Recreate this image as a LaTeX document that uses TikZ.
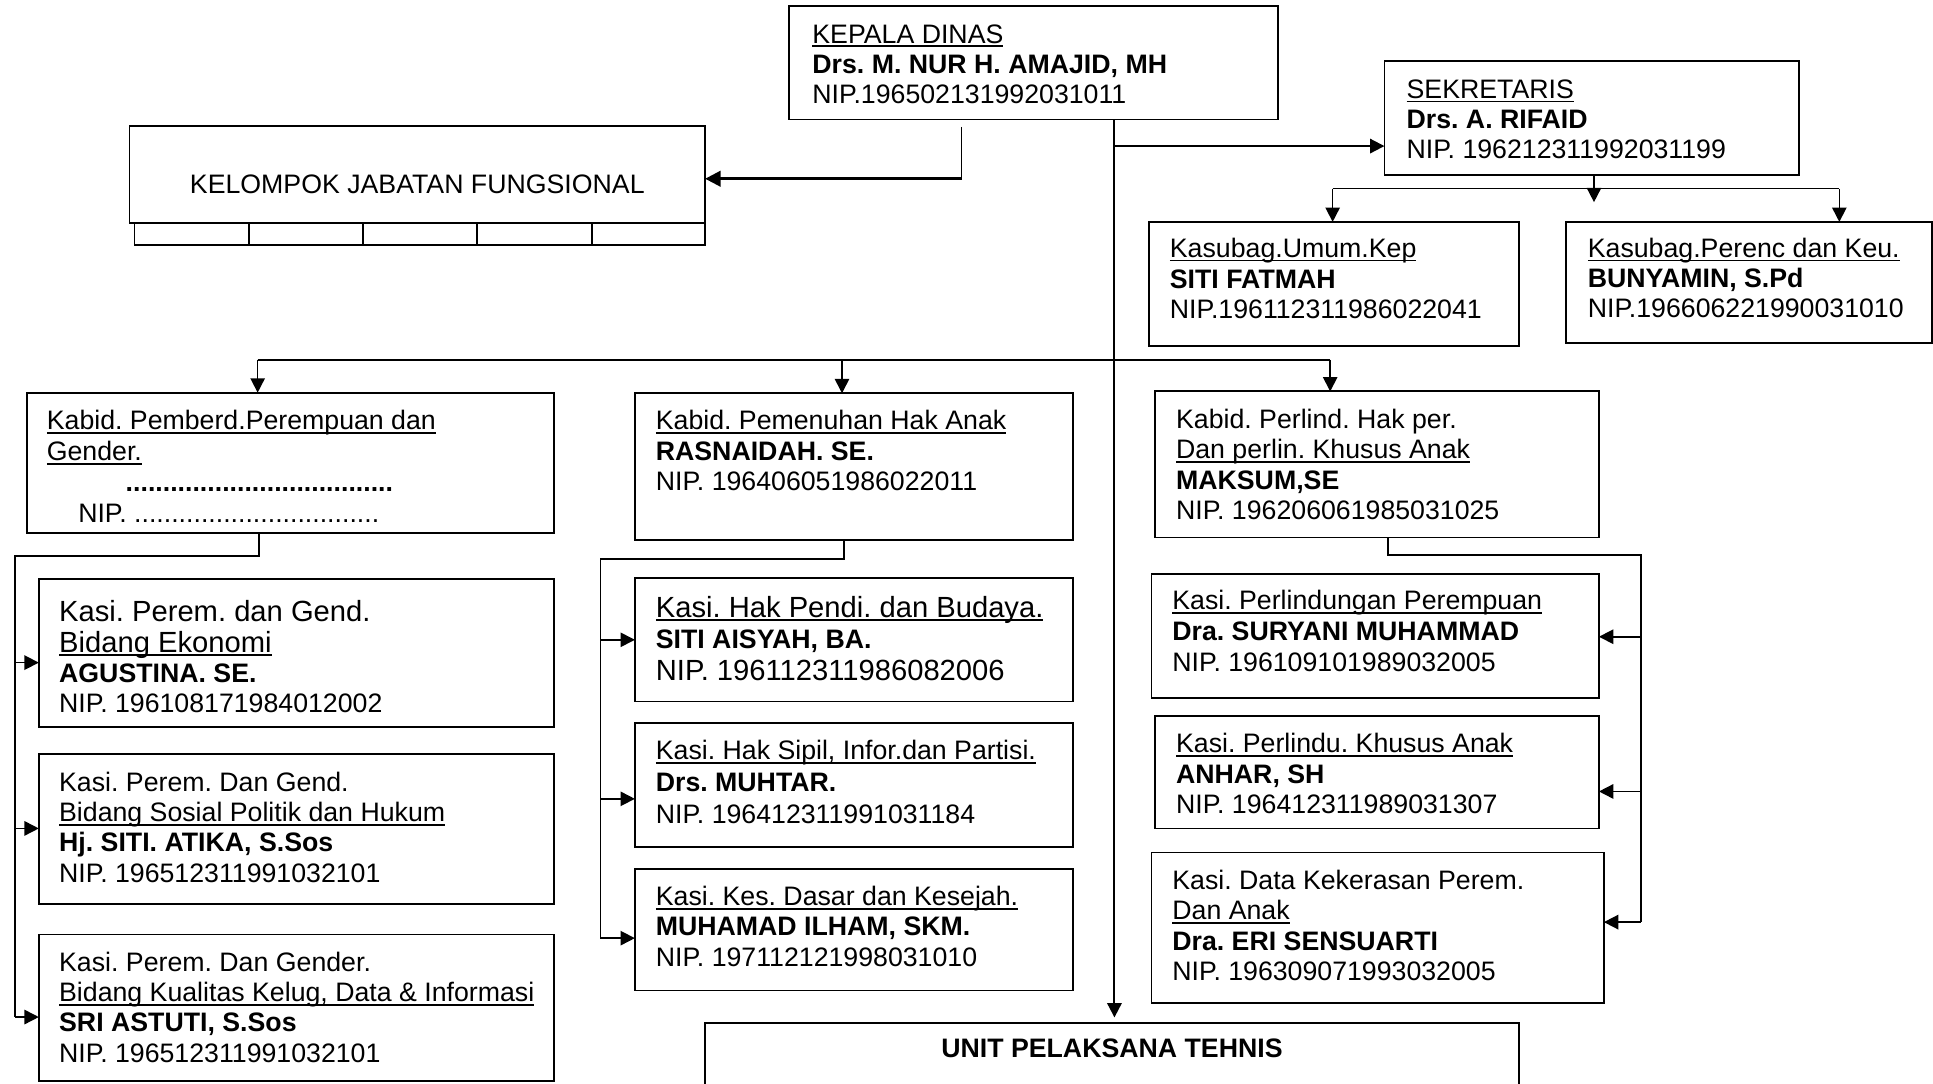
\documentclass[tikz,border=0pt]{standalone}
\usepackage{fontspec}
\setmainfont{Liberation Sans}
\usetikzlibrary{arrows.meta}
\frenchspacing
\newcommand\nf{\fontsize{13}{15}\selectfont}
\newcommand\bigf{\fontsize{14.2}{16}\selectfont}
\newcommand\myul[1]{\setbox0=\hbox{#1}\rlap{\rule[-2pt]{\wd0}{0.9pt}}\box0}
\newcommand\blk[2]{\vtop{\baselineskip=#1\relax\lineskiplimit=-\maxdimen #2}}
\newcommand\mkbox[5]{\node[boxst, minimum width={(#4-#2)*0.6pt}, minimum height={(#5-#3)*0.6pt}] (#1) at (#2,#3) {};}
\begin{document}
\begin{tikzpicture}[x=0.6pt,y=-0.6pt,
  boxst/.style={draw, line width=0.9pt, inner sep=0pt, outer sep=0pt, anchor=north west},
  txt/.style={anchor=base west, inner sep=0pt, outer sep=0pt, font=\nf\frenchspacing},
  ctxt/.style={anchor=base, inner sep=0pt, outer sep=0pt, font=\nf},
  conn/.style={line width=0.8pt},
  arr/.style={conn, -{Triangle[length=7pt,width=7pt]}},
  thickarr/.style={line width=1.3pt, -{Triangle[length=7.5pt,width=7.5pt]}},
  mainarr/.style={line width=1pt, -{Triangle[length=7pt,width=7pt]}}]
\useasboundingbox (0,0) rectangle (1568,879);
\clip (0,0) rectangle (1568,879);

% ---------- boxes ----------
\mkbox{kd}{640}{5}{1037}{97}
\mkbox{sek}{1123}{49.5}{1459}{142}
\mkbox{kjf}{105}{102}{572}{181}
\mkbox{ku}{932}{180}{1232}{280.5}
\mkbox{kp}{1270}{180}{1567}{278}
\mkbox{kb1}{22}{318.5}{449.5}{432.5}
\mkbox{kb2}{515}{319}{870.5}{438}
\mkbox{kb3}{937}{317.5}{1297}{436}
\mkbox{kk1}{31.5}{470}{449.5}{590}
\mkbox{kk2}{31.5}{611.5}{449.5}{733}
\mkbox{kk3}{31.5}{758}{449.5}{877}
\mkbox{kh1}{515}{469}{870.5}{569}
\mkbox{kh2}{515}{586.5}{870.5}{687}
\mkbox{kh3}{515}{705}{870.5}{803.5}
\mkbox{kp1}{934}{465.5}{1297}{566}
\mkbox{kp2}{937}{581}{1297}{672}
\mkbox{kp3}{934}{691.5}{1301}{813.5}
\mkbox{upt}{572}{829.5}{1232}{900}

% strip under KJF
\draw[line width=0.8pt] (109,181) rectangle (572,199);
\foreach \xx in {202,294.5,387,480} \draw[line width=0.8pt] (\xx,181) -- (\xx,199);

% ---------- texts ----------
\node[txt] (kdt) at (659,35) {\blk{14.7pt}{\hbox{\myul{KEPALA DINAS}}\hbox{\bfseries Drs. M. NUR H. AMAJID, MH}\hbox{NIP.196502131992031011}}};
\node[txt] (sekt) at (1141,79.75) {\blk{14.7pt}{\hbox{\myul{SEKRETARIS}}\hbox{\bfseries Drs. A. RIFAID}\hbox{NIP. 196212311992031199}}};
\node[ctxt] (kjft) at (338.5,157.25) {KELOMPOK JABATAN FUNGSIONAL};
\node[txt] (kut) at (949,208.75) {\blk{15pt}{\hbox{\myul{Kasubag.Umum.Kep}}\hbox{\bfseries SITI FATMAH}\hbox{NIP.196112311986022041}}};
\node[txt] (kpt) at (1288,208.75) {\blk{14.7pt}{\hbox{\myul{Kasubag.Perenc dan Keu.}}\hbox{\bfseries BUNYAMIN, S.Pd}\hbox{NIP.196606221990031010}}};
\node[txt] (kb1t) at (38,348.5) {\blk{15pt}{\hbox{\myul{Kabid. Pemberd.Perempuan dan}}\hbox{\myul{Gender.}}\hbox{\hspace*{38.4pt}\bfseries ....................................}\hbox{\hspace*{15.3pt}NIP. .................................}}};
\node[txt] (kb2t) at (532,348.75) {\blk{14.7pt}{\hbox{\myul{Kabid. Pemenuhan Hak Anak}}\hbox{\bfseries RASNAIDAH. SE.}\hbox{NIP. 196406051986022011}}};
\node[txt] (kb3t) at (954,347.75) {\blk{14.7pt}{\hbox{Kabid. Perlind. Hak per.}\hbox{\myul{Dan perlin. Khusus Anak}}\hbox{\bfseries MAKSUM,SE}\hbox{NIP. 196206061985031025}}};
\node[txt] (kk1t) at (48,504.5) {\blk{14.7pt}{\hbox{\bigf Kasi. Perem. dan Gend.}\hbox{\bigf\myul{Bidang Ekonomi}}\hbox{\bfseries AGUSTINA. SE.}\hbox{NIP. 196108171984012002}}};
\node[txt] (kk2t) at (48,641.75) {\blk{14.8pt}{\hbox{Kasi. Perem. Dan Gend.}\hbox{\myul{Bidang Sosial Politik dan Hukum}}\hbox{\bfseries Hj. SITI. ATIKA, S.Sos}\hbox{NIP. 196512311991032101}}};
\node[txt] (kk3t) at (48,787.75) {\blk{14.8pt}{\hbox{Kasi. Perem. Dan Gender.}\hbox{\myul{Bidang Kualitas Kelug, Data \& Informasi}}\hbox{\bfseries SRI ASTUTI, S.Sos}\hbox{NIP. 196512311991032101}}};
\node[txt] (kh1t) at (532,500.5) {\blk{15.45pt}{\hbox{\bigf\myul{Kasi. Hak Pendi. dan Budaya.}}\hbox{\bfseries SITI AISYAH, BA.}\hbox{\bigf NIP. 196112311986082006}}};
\node[txt] (kh2t) at (532,616.25) {\blk{15.6pt}{\hbox{\myul{Kasi. Hak Sipil, Infor.dan Partisi.}}\hbox{\bfseries Drs. MUHTAR.}\hbox{NIP. 196412311991031184}}};
\node[txt] (kh3t) at (532,734.75) {\blk{14.7pt}{\hbox{\myul{Kasi. Kes. Dasar dan Kesejah.}}\hbox{\bfseries MUHAMAD ILHAM, SKM.}\hbox{NIP. 197112121998031010}}};
\node[txt] (kp1t) at (951,494.5) {\blk{15pt}{\hbox{\myul{Kasi. Perlindungan Perempuan}}\hbox{\bfseries Dra. SURYANI MUHAMMAD}\hbox{NIP. 196109101989032005}}};
\node[txt] (kp2t) at (954,610.75) {\blk{14.85pt}{\hbox{\myul{Kasi. Perlindu. Khusus Anak}}\hbox{\bfseries ANHAR, SH}\hbox{NIP. 196412311989031307}}};
\node[txt] (kp3t) at (951,721.5) {\blk{14.8pt}{\hbox{Kasi. Data Kekerasan Perem.}\hbox{\myul{Dan Anak}}\hbox{\bfseries Dra. ERI SENSUARTI}\hbox{NIP. 196309071993032005}}};
\node[ctxt, font=\nf\bfseries] (uptt) at (902,857.75) {UNIT PELAKSANA TEHNIS};

% ---------- connectors ----------
% Kepala Dinas -> Kelompok Jabatan Fungsional
\coordinate (f1) at (780,103);
\coordinate (f2) at (780,145);
\draw[line width=0.5pt] (f1) -- (f2);
\draw[thickarr] (f2) -- (f2 -| kjf.east);
% main vertical -> UPT
\coordinate (mv) at (904,0);
\draw[mainarr, shorten >=2.5pt] (kd.south -| mv) -- (upt.north -| mv);
% -> Sekretaris
\coordinate (s0) at (904,118.5);
\draw[mainarr] (s0) -- (s0 -| sek.west);
% Sekretaris -> Kasubag
\coordinate (sh1) at (1081,153);
\coordinate (sh2) at (1492,153);
\coordinate (sm) at (1293,164);
\draw[conn] (sh1) -- (sh2);
\draw[arr] (sh1) -- (sh1 |- ku.north);
\draw[arr] (sh2) -- (sh2 |- kp.north);
\draw[arr] (sek.south -| sm) -- (sm);
% Kabid level
\coordinate (h1) at (209,292);
\coordinate (h2) at (683,292);
\coordinate (h3) at (1079,292);
\draw[conn] (h1) -- (h3);
\draw[arr] (h1) -- (h1 |- kb1.north);
\draw[arr] (h2) -- (h2 |- kb2.north);
\draw[arr] (h3) -- (h3 |- kb3.north);
% Kabid 1 -> Kasi
\coordinate (j1) at (210,451);
\coordinate (t1) at (12,451);
\coordinate (a11) at (12,537.5);
\coordinate (a12) at (12,672);
\coordinate (a13) at (12,825);
\draw[conn] (j1 |- kb1.south) -- (j1) -- (t1) -- (a13);
\draw[arr] (a11) -- (a11 -| kk1.west);
\draw[arr] (a12) -- (a12 -| kk2.west);
\draw[arr] (a13) -- (a13 -| kk3.west);
% Kabid 2 -> Kasi
\coordinate (j2) at (684.5,453.5);
\coordinate (t2) at (487,453.5);
\coordinate (a21) at (487,519);
\coordinate (a22) at (487,648);
\coordinate (a23) at (487,761);
\draw[conn] (j2 |- kb2.south) -- (j2) -- (t2) -- (a23);
\draw[arr] (a21) -- (a21 -| kh1.west);
\draw[arr] (a22) -- (a22 -| kh2.west);
\draw[arr] (a23) -- (a23 -| kh3.west);
% Kabid 3 -> Kasi
\coordinate (j3) at (1126,450);
\coordinate (t3) at (1331,450);
\coordinate (a31) at (1331,516.5);
\coordinate (a32) at (1331,642);
\coordinate (a33) at (1331,748);
\draw[conn] (j3 |- kb3.south) -- (j3) -- (t3) -- (a33);
\draw[arr] (a31) -- (a31 -| kp1.east);
\draw[arr] (a32) -- (a32 -| kp2.east);
\draw[arr] (a33) -- (a33 -| kp3.east);
\end{tikzpicture}
\end{document}
